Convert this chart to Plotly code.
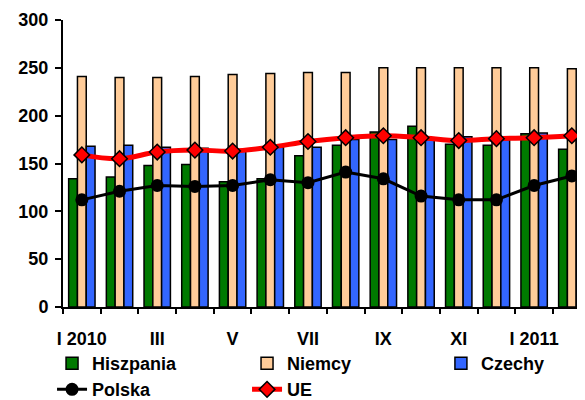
import plotly.graph_objects as go

# miesiące
months = ["I 2010", "II", "III", "IV", "V", "VI", "VII", "VIII", "IX", "X", "XI", "XII", "I 2011", "II 2011"]
tick_text = ["I 2010", "", "III", "", "V", "", "VII", "", "IX", "", "XI", "", "I 2011", ""]

hiszpania = [134, 136, 148, 149, 131, 134, 158, 169, 183, 189, 170, 169, 181, 165]
niemcy = [241, 240, 240, 241, 243, 244, 245, 245, 250, 250, 250, 250, 250, 249]
czechy = [168, 169, 167, 166, 164, 167, 167, 175, 175, 175, 178, 175, 182, 182]
polska = [112, 121, 127, 126, 127, 133, 130, 141, 134, 116, 112, 112, 127, 137]
ue = [159, 155, 162, 164, 163, 167, 173, 177, 179, 177, 174, 176, 177, 179]

font = dict(family="Liberation Sans, Arial, sans-serif", size=18, color="black", weight=700)

fig = go.Figure()

# slupki
for name, vals, col, lg in [("Hiszpania", hiszpania, "#007A00", "legend"),
                            ("Niemcy", niemcy, "#FFCC99", "legend"),
                            ("Czechy", czechy, "#3366FF", "legend3")]:
    fig.add_trace(go.Bar(x=months, y=vals, name=name, legend=lg,
                         marker=dict(color=col, line=dict(color="black", width=1.5))))

# linie
fig.add_trace(go.Scatter(x=months, y=polska, name="Polska", mode="lines+markers", legend="legend2",
                         line=dict(color="black", width=3),
                         marker=dict(symbol="circle", size=13, color="black")))
fig.add_trace(go.Scatter(x=months, y=ue, name="UE", mode="lines+markers", legend="legend2",
                         line=dict(color="#FF0000", width=5, shape="spline"),
                         marker=dict(symbol="diamond", size=12, color="#FF0000",
                                     line=dict(color="black", width=1.5))))

leg = dict(orientation="h", xanchor="left", yanchor="top", x=-0.021,
           entrywidth=150, entrywidthmode="pixels", font=font,
           traceorder="normal", bgcolor="rgba(0,0,0,0)")

# strona ma domyslny margines 8px, wiec przesuwamy wykres
fig.update_layout(
    width=585, height=400,
    margin=dict(l=55, r=8, t=12, b=101, autoexpand=False),
    plot_bgcolor="white", paper_bgcolor="white",
    font=font,
    barmode="group", bargap=0.3, bargroupgap=0,
    showlegend=True,
    legend=dict(leg, y=-0.133),
    legend2=dict(leg, y=-0.2236),
    legend3=dict(leg, y=-0.133, x=0.724),
)

fig.update_xaxes(
    type="category", range=[-0.5, 13.35], automargin=False,
    tickmode="array", tickvals=months, ticktext=tick_text, tickangle=0,
    tickson="boundaries", ticks="outside", ticklen=5, tickwidth=2, tickcolor="black",
    showline=True, linecolor="black", linewidth=2,
    showgrid=False, ticklabelstandoff=14, tickfont=font,
)
fig.update_yaxes(
    range=[0, 300], dtick=50, tick0=0, automargin=False,
    ticks="outside", ticklen=6, tickwidth=2, tickcolor="black",
    showline=True, linecolor="black", linewidth=2,
    showgrid=False, zeroline=False, ticklabelstandoff=3, tickfont=font,
)

fig.write_html("out.html")
